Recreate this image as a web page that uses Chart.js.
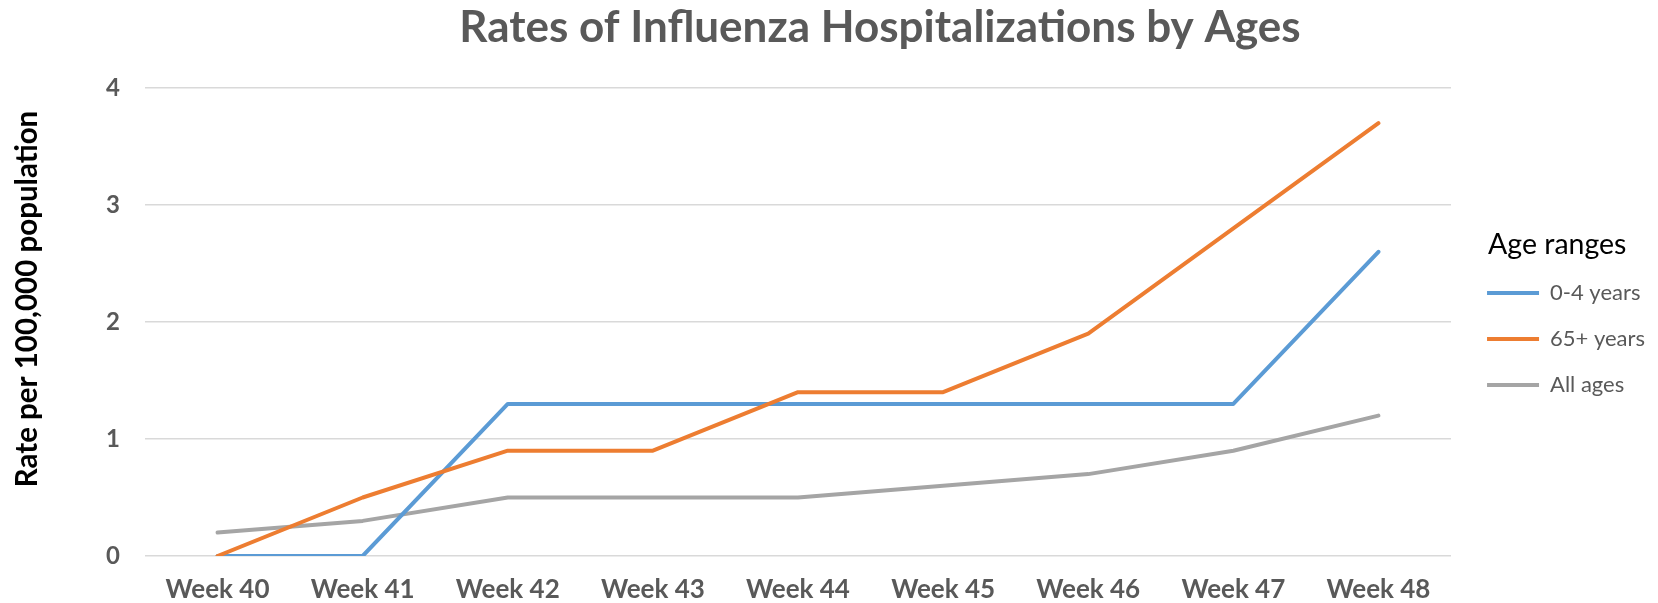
<!DOCTYPE html>
<html>
<head>
<meta charset="utf-8">
<script src="https://cdn.jsdelivr.net/npm/chart.js@4"></script>
<style>
  html, body { margin: 0; padding: 0; background: #fff; }
  #wrap { width: 1658px; height: 603px; }
</style>
</head>
<body>
<div id="wrap"><canvas id="fluChart" width="1658" height="603"></canvas></div>
<script>
// Rates of influenza hospitalizations, per 100,000 population
const weeks = ['Week 40', 'Week 41', 'Week 42', 'Week 43', 'Week 44', 'Week 45', 'Week 46', 'Week 47', 'Week 48'];
const age0to4 = [0, 0, 1.3, 1.3, 1.3, 1.3, 1.3, 1.3, 2.6];
const age65plus = [0, 0.5, 0.9, 0.9, 1.4, 1.4, 1.9, 2.8, 3.7];
const allAges = [0.2, 0.3, 0.5, 0.5, 0.5, 0.6, 0.7, 0.9, 1.2];
const yTicks = [0, 1, 2, 3, 4];

const FONT = 'Lato, "Liberation Sans", sans-serif';
const GREY_TEXT = '#595959';
const PLOT_RIGHT = 1451;
const PAD_RIGHT = 3;

// chart title, y title and legend heading sit off-centre in the original, so they are drawn here
const sideTexts = {
  id: 'sideTexts',
  afterDraw(chart) {
    const c = chart.ctx;
    c.save();
    c.textBaseline = 'middle';

    c.textAlign = 'center';
    c.fillStyle = GREY_TEXT;
    c.font = 'bold 44px ' + FONT;
    c.fillText('Rates of Influenza Hospitalizations by Ages', 880, 28);

    c.textAlign = 'left';
    c.fillStyle = '#000';
    c.font = '28.5px ' + FONT;
    c.fillText('Age ranges', 1488, 245);

    c.textAlign = 'center';
    c.translate(27, 299);
    c.rotate(-Math.PI / 2);
    c.font = 'bold 29.5px ' + FONT;
    c.fillText('Rate per 100,000 population', 0, 0);
    c.restore();
  }
};

const ctx = document.getElementById('fluChart').getContext('2d');

new Chart(ctx, {
  type: 'line',
  data: {
    labels: weeks,
    datasets: [
      { label: '0-4 years', data: age0to4, borderColor: '#5B9BD5', backgroundColor: '#5B9BD5', order: 2 },
      { label: '65+ years', data: age65plus, borderColor: '#ED7D31', backgroundColor: '#ED7D31', order: 1 },
      { label: 'All ages', data: allAges, borderColor: '#A5A5A5', backgroundColor: '#A5A5A5', order: 3 }
    ].map(ds => Object.assign(ds, {
      borderWidth: 4,
      pointRadius: 0,
      pointHoverRadius: 0,
      tension: 0,
      fill: false,
      borderCapStyle: 'round',
      borderJoinStyle: 'round'
    }))
  },
  plugins: [sideTexts],
  options: {
    responsive: false,
    animation: false,
    layout: {
      padding: { top: 88, left: 0, right: PAD_RIGHT, bottom: 0 }
    },
    plugins: {
      title: { display: false },
      legend: {
        position: 'right',
        align: 'start',
        // blank heading only reserves the room above the items; the text is drawn by sideTexts
        title: {
          display: true,
          text: ' ',
          font: { family: FONT, size: 30 },
          padding: { top: 139, bottom: -5 }
        },
        labels: {
          usePointStyle: true,
          pointStyle: 'line',
          pointStyleWidth: 52,
          color: GREY_TEXT,
          font: { family: FONT, size: 22 },
          padding: 24,
          sort: (a, b) => a.datasetIndex - b.datasetIndex
        }
      },
      tooltip: { enabled: false }
    },
    scales: {
      x: {
        offset: true,
        grid: { display: false, drawTicks: false },
        border: { display: false },
        ticks: {
          color: GREY_TEXT,
          font: { family: FONT, size: 26, weight: 'bold' },
          padding: 18,
          maxRotation: 0
        },
        afterFit: scale => { scale.height = 47; }
      },
      y: {
        min: 0,
        max: 4,
        afterBuildTicks: axis => { axis.ticks = yTicks.map(v => ({ value: v })); },
        grid: { color: '#d9d9d9', lineWidth: 1.5, drawTicks: false },
        border: { display: false },
        ticks: {
          color: GREY_TEXT,
          font: { family: FONT, size: 24, weight: 'bold' },
          padding: 25
        },
        afterFit: scale => { scale.width = 145; }
      },
      // empty right-hand axis: only keeps the gap between the plot and the legend
      gap: {
        position: 'right',
        min: 0,
        max: 4,
        grid: { display: false },
        border: { display: false },
        ticks: { display: false },
        afterFit: scale => {
          const lg = scale.chart.legend;
          scale.width = Math.max(0, scale.chart.width - PLOT_RIGHT - PAD_RIGHT - (lg ? lg.width : 0));
        }
      }
    }
  }
});
</script>
</body>
</html>
